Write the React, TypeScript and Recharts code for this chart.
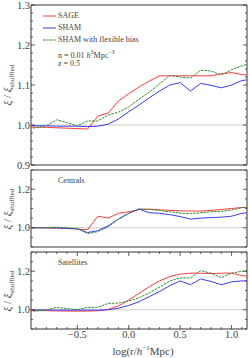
import { LineChart, Line, XAxis, YAxis, ReferenceArea, ReferenceLine } from "recharts";

// log(r / h^-1 Mpc)
const xs = [-1.0, -0.9, -0.8, -0.7, -0.6, -0.5, -0.4, -0.3, -0.2, -0.1, 0.0, 0.1, 0.2, 0.3, 0.4, 0.5, 0.6, 0.7, 0.8, 0.9, 1.0, 1.1, 1.2];

// all galaxies
const sageAll = [0.995, 0.995, 0.994, 0.993, 0.992, 0.991, 0.99, 1.022, 1.03, 1.06, 1.078, 1.095, 1.11, 1.123, 1.123, 1.123, 1.123, 1.123, 1.123, 1.128, 1.131, 1.126, 1.124];
const shamAll = [0.998, 0.998, 0.998, 0.997, 0.997, 0.997, 0.996, 0.997, 1.002, 1.015, 1.033, 1.05, 1.068, 1.085, 1.1, 1.106, 1.085, 1.104, 1.099, 1.093, 1.1, 1.111, 1.115];
const flexAll = [0.992, 0.993, 0.998, 1.013, 1.006, 0.998, 1.01, 1.01, 1.025, 1.032, 1.045, 1.065, 1.082, 1.103, 1.124, 1.12, 1.117, 1.137, 1.135, 1.125, 1.138, 1.148, 1.155];

// centrals
const sageCen = [1.0, 1.0, 0.999, 0.998, 0.996, 0.993, 0.99, 1.06, 1.05, 1.075, 1.083, 1.095, 1.097, 1.093, 1.09, 1.088, 1.087, 1.087, 1.09, 1.095, 1.1, 1.105, 1.106];
const shamCen = [1.0, 1.0, 1.0, 0.999, 0.997, 0.995, 0.975, 0.985, 1.01, 1.045, 1.075, 1.097, 1.078, 1.075, 1.068, 1.058, 1.045, 1.05, 1.053, 1.055, 1.06, 1.075, 1.08];
const flexCen = [1.0, 1.0, 1.001, 1.003, 1.0, 0.996, 0.97, 0.98, 1.005, 1.045, 1.075, 1.098, 1.095, 1.09, 1.083, 1.076, 1.073, 1.078, 1.083, 1.085, 1.092, 1.105, 1.108];

// satellites
const sageSat = [0.997, 0.996, 0.995, 0.994, 0.993, 0.993, 0.993, 0.995, 1.002, 1.02, 1.05, 1.085, 1.12, 1.15, 1.172, 1.185, 1.19, 1.19, 1.188, 1.19, 1.19, 1.178, 1.17];
const shamSat = [1.0, 0.999, 0.999, 0.998, 0.998, 0.998, 0.998, 0.998, 1.0, 1.008, 1.022, 1.042, 1.068, 1.095, 1.125, 1.15, 1.13, 1.16, 1.147, 1.13, 1.145, 1.15, 1.15];
const flexSat = [0.993, 0.993, 1.0, 1.012, 1.006, 1.0, 1.012, 1.013, 1.033, 1.035, 1.045, 1.062, 1.088, 1.118, 1.15, 1.165, 1.165, 1.203, 1.19, 1.167, 1.19, 1.2, 1.205];

const xTicks = [-0.9, -0.8, -0.7, -0.6, -0.5, -0.4, -0.3, -0.2, -0.1, 0.0, 0.1, 0.2, 0.3, 0.4, 0.5, 0.6, 0.7, 0.8, 0.9, 1.0, 1.1];
const xLabels = [-0.5, 0.0, 0.5, 1.0];
const yTicksTop = [0.9, 0.92, 0.94, 0.96, 0.98, 1.0, 1.02, 1.04, 1.06, 1.08, 1.1, 1.12, 1.14, 1.16, 1.18, 1.2, 1.22, 1.24, 1.26, 1.28, 1.3];
const yLabelsTop = [0.9, 1.0, 1.1, 1.2, 1.3];
const yTicksSub = [0.9, 0.95, 1.0, 1.05, 1.1, 1.15, 1.2, 1.25, 1.3];
const yLabelsSub = [1.0, 1.2];

const FONT = '"Liberation Serif", serif';
const FRAME = "#333";
const TEXT = "#444";
const RED = "#ff3b3b";
const BLUE = "#3b3bff";
const GREEN = "#2e8b2e";
const W = 249;
const MT = 5;
const MR = 2;
const RIGHT = W - MR;

const has = (arr: number[], v: number) => arr.some((a) => Math.abs(a - v) < 1e-6);
const fmt = (v: number) => (v < 0 ? "\u2212" + Math.abs(v).toFixed(1) : v.toFixed(1));

function makeRows(a: number[], b: number[], c: number[]) {
  return xs.map((x, i) => ({ x, sage: a[i], sham: b[i], flex: c[i] }));
}

function YTitle({ top }: { top: number }) {
  return (
    <div
      style={{
        position: "absolute",
        left: 9,
        top,
        transform: "translate(-50%, -50%) rotate(-90deg)",
        whiteSpace: "nowrap",
        fontFamily: FONT,
        fontSize: 11,
        color: TEXT,
        lineHeight: 1,
      }}
    >
      <i>ξ</i> / <i>ξ</i>
      <sub style={{ fontSize: 7 }}>shuffled</sub>
    </div>
  );
}

function Panel({ top, plotH, rows, yTicks, yLabels, bottom }: any) {
  const axisH = bottom ? 29 : 0;
  const mb = bottom ? 0 : 5;
  const height = plotH + MT + mb + axisH;

  const xTick = (p: any) => {
    const major = has(xLabels, p.payload.value);
    const len = major ? 4 : 2;
    return (
      <g>
        <line x1={p.x} x2={p.x} y1={p.y} y2={p.y - len} stroke={FRAME} strokeWidth={0.8} />
        <line x1={p.x} x2={p.x} y1={MT} y2={MT + len} stroke={FRAME} strokeWidth={0.8} />
        {bottom && major && (
          <text x={p.x} y={p.y + 8.5} textAnchor="middle" fontFamily={FONT} fontSize={10.5} fill={TEXT}>
            {fmt(p.payload.value)}
          </text>
        )}
      </g>
    );
  };

  const yTick = (p: any) => {
    const major = has(yLabels, p.payload.value);
    const len = major ? 4 : 2;
    return (
      <g>
        <line x1={p.x} x2={p.x + len} y1={p.y} y2={p.y} stroke={FRAME} strokeWidth={0.8} />
        <line x1={RIGHT} x2={RIGHT - len} y1={p.y} y2={p.y} stroke={FRAME} strokeWidth={0.8} />
        {major && (
          <text x={p.x - 1} y={p.y + 3.5} textAnchor="end" fontFamily={FONT} fontSize={10.5} fill={TEXT}>
            {p.payload.value.toFixed(1)}
          </text>
        )}
      </g>
    );
  };

  return (
    <>
      <div style={{ position: "absolute", left: 0, top: top - MT }}>
        <LineChart width={W} height={height} data={rows} margin={{ top: MT, right: MR, bottom: mb, left: 0 }}>
          <XAxis
            dataKey="x"
            type="number"
            domain={[-0.95, 1.15]}
            allowDataOverflow
            ticks={xTicks}
            interval={0}
            tickSize={0}
            tickMargin={0}
            tickLine={false}
            axisLine={false}
            height={axisH}
            tick={xTick}
          />
          <YAxis
            type="number"
            domain={[0.9, 1.3]}
            allowDataOverflow
            ticks={yTicks}
            interval={0}
            width={31}
            tickSize={0}
            tickMargin={0}
            tickLine={false}
            axisLine={false}
            tick={yTick}
          />
          <ReferenceLine y={1} stroke="#cccccc" strokeWidth={1} />
          <Line type="linear" dataKey="sage" stroke={RED} strokeWidth={1} dot={false} isAnimationActive={false} />
          <Line type="linear" dataKey="sham" stroke={BLUE} strokeWidth={1} dot={false} isAnimationActive={false} />
          <Line type="linear" dataKey="flex" stroke={GREEN} strokeWidth={1} strokeDasharray="2.5 1" dot={false} isAnimationActive={false} />
          <ReferenceArea x1={-0.95} x2={1.15} y1={0.9} y2={1.3} fill="none" stroke={FRAME} strokeWidth={1} />
        </LineChart>
      </div>
      <YTitle top={top + plotH / 2} />
    </>
  );
}

const txt = { position: "absolute" as const, fontFamily: FONT, fontSize: 8, color: TEXT, lineHeight: "12px", whiteSpace: "nowrap" as const };

function LegendRow({ y, color, dash, label }: any) {
  return (
    <div style={{ ...txt, left: 43, top: y - 6, display: "flex", alignItems: "center" }}>
      <svg width={13} height={4} style={{ marginRight: 2 }}>
        <line x1={0} x2={13} y1={2} y2={2} stroke={color} strokeWidth={1} strokeDasharray={dash} />
      </svg>
      {label}
    </div>
  );
}

export default function App() {
  return (
    <div style={{ position: "absolute", left: 0, top: 0, width: 249, height: 358, background: "#fff" }}>
      <Panel top={5} plotH={160} rows={makeRows(sageAll, shamAll, flexAll)} yTicks={yTicksTop} yLabels={yLabelsTop} />
      <Panel top={170} plotH={77} rows={makeRows(sageCen, shamCen, flexCen)} yTicks={yTicksSub} yLabels={yLabelsSub} />
      <Panel top={252} plotH={77} rows={makeRows(sageSat, shamSat, flexSat)} yTicks={yTicksSub} yLabels={yLabelsSub} bottom />

      <LegendRow y={16} color={RED} label="SAGE" />
      <LegendRow y={28} color={BLUE} label="SHAM" />
      <LegendRow y={40} color={GREEN} dash="2.5 1" label="SHAM with flexible bias" />
      <div style={{ ...txt, left: 58, top: 46 }}>
        n = 0.01 <i>h</i>
        <sup style={{ fontSize: 6 }}>3</sup>Mpc<sup style={{ fontSize: 6 }}>−3</sup>
      </div>
      <div style={{ ...txt, left: 58, top: 58 }}>z = 0.5</div>

      <div style={{ ...txt, left: 58, top: 175 }}>Centrals</div>
      <div style={{ ...txt, left: 58, top: 257 }}>Satellites</div>

      <div style={{ ...txt, fontSize: 11, left: 143, top: 342, transform: "translateX(-50%)" }}>
        log(r/<i>h</i>
        <sup style={{ fontSize: 7 }}>−1</sup>Mpc)
      </div>
    </div>
  );
}
